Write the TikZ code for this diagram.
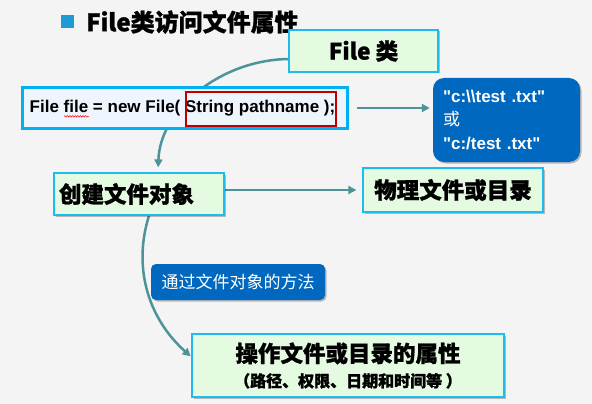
\documentclass[tikz,border=0pt]{standalone}
\usepackage{fontspec}
\setmainfont{Liberation Sans}[Ligatures=TeXOff]
\newfontfamily\cjk{Noto Sans CJK SC}[BoldFeatures={FakeBold=1.2}]
\usetikzlibrary{arrows.meta,shadows,decorations.pathmorphing}

\definecolor{bgc}{HTML}{F4F4F4}
\definecolor{greenfill}{HTML}{E4FBE2}
\definecolor{cyanb}{HTML}{1EBBEE}
\definecolor{codefill}{HTML}{EEF5FC}
\definecolor{codeb}{HTML}{00B0F0}
\definecolor{redb}{HTML}{C00000}
\definecolor{blueb}{HTML}{0068BE}
\definecolor{linec}{HTML}{4C9499}
\definecolor{bulletc}{HTML}{1E9AD6}

\pgfdeclarelayer{bglayer}
\pgfdeclarelayer{edgelayer}
\pgfsetlayers{bglayer,edgelayer,main}

\tikzset{
  softshadow/.style={drop shadow={shadow xshift=1.5pt, shadow yshift=-1.5pt, opacity=0.25, fill=black}},
  greenbox/.style={draw=cyanb, line width=1.2pt, fill=greenfill, inner sep=0pt, softshadow,
    font=\cjk\bfseries\fontsize{22.5}{27}\selectfont},
  bluebox/.style={fill=blueb, rounded corners=11pt, inner sep=0pt, text=white, softshadow},
  conn/.style={draw=linec, line width=2.5pt, -{Triangle[length=8pt,width=8pt]}},
}

\begin{document}
\begin{tikzpicture}[x=1pt,y=-1pt]
\useasboundingbox (0,0) rectangle (592,404);
\begin{pgfonlayer}{bglayer}
\fill[bgc] (0,0) rectangle (592,404);
\end{pgfonlayer}

% title
\node[fill=bulletc, minimum size=13pt, inner sep=0pt] (bul) at (67.5,21.5) {};
\node[anchor=west, inner sep=0pt, font=\cjk\bfseries\fontsize{24}{28}\selectfont] (title) at (86,22) {File类访问文件属性};

% File class box
\node[greenbox, minimum width=149pt, minimum height=42pt] (fileclass) at (363.5,51) {File 类};

% code box
\node[draw=codeb, line width=3pt, fill=codefill, minimum width=325pt, minimum height=41pt, inner sep=0pt, softshadow] (code) at (185,108) {};
\node[anchor=west, inner sep=0pt, font=\bfseries\fontsize{17}{20}\selectfont] (codetext) at (29.5,108) {File file = new File( String pathname );};
\node[draw=redb, line width=1.5pt, minimum width=150pt, minimum height=34pt, inner sep=0pt] (strbox) at (261,109) {};
\draw[red, line width=0.5pt, decorate, decoration={snake, amplitude=0.8pt, segment length=2.6pt}]
  (codetext.base west) ++(34.5,4) -- ++(25,0);

% blue path box
\node[bluebox, minimum width=147pt, minimum height=84pt, text width=127pt, align=left, inner xsep=10pt,
  font=\bfseries\fontsize{17}{23.5}\selectfont] (paths) at (506.5,120)
  {"c:\textbackslash\textbackslash test .txt"\\{\cjk\mdseries 或}\\"c:/test .txt"};

% create object
\node[greenbox, minimum height=42pt, text width=160pt, inner xsep=5pt, align=left] (create) at (139,194) {创建文件对象};

% physical file
\node[greenbox, minimum width=180pt, minimum height=44pt] (phys) at (453,190) {物理文件或目录};

% method label
\node[bluebox, rounded corners=5pt, minimum width=174pt, minimum height=36pt,
  font=\cjk\fontsize{17}{20}\selectfont] (method) at (238,282) {通过文件对象的方法};

% attributes
\node[greenbox, minimum width=312pt, minimum height=63pt, align=center] (attr) at (348,365.5)
  {操作文件或目录的属性\\[-2pt]{\fontsize{16}{20}\selectfont （路径、权限、日期和时间等 ）}};

% connectors
\begin{pgfonlayer}{edgelayer}
\draw[conn, shorten >=5pt] ([yshift=-8pt]fileclass.west) .. controls (220,60) and (160,110) .. ([xshift=19pt]create.north);
\draw[conn, shorten >=1pt] ([xshift=10pt]create.south) .. controls (132,270) and (150,320) .. ([yshift=8.5pt]attr.west);
\draw[conn, shorten <=7.5pt, shorten >=3pt] (code.east) -- (code.east -| paths.west);
\draw[conn, shorten >=6pt] (create.east |- phys.west) -- (phys.west);
\end{pgfonlayer}
\end{tikzpicture}
\end{document}
